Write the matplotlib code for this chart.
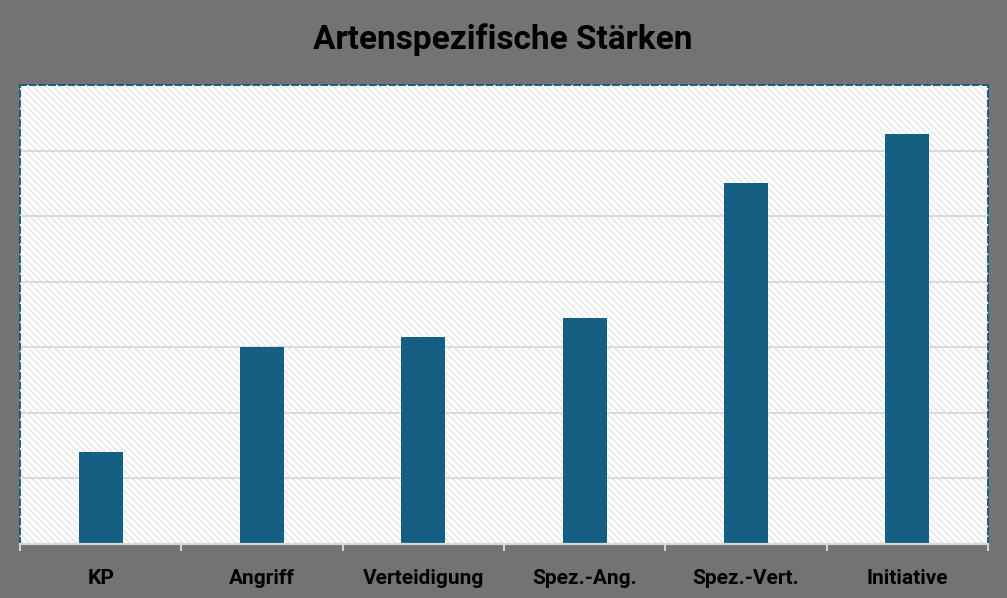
import matplotlib
matplotlib.use("Agg")
import matplotlib.pyplot as plt
from matplotlib.patches import Rectangle

categories = ["KP", "Angriff", "Verteidigung", "Spez.-Ang.", "Spez.-Vert.", "Initiative"]
values = [28, 60, 63, 69, 110, 125]

BG = "#737373"
BAR = "#156082"
GRID = "#d9d9d9"

plt.rcParams["hatch.linewidth"] = 0.9
plt.rcParams["hatch.color"] = "#e2e2e2"
plt.rcParams["font.family"] = ["Roboto", "DejaVu Sans"]

fig = plt.figure(figsize=(10.07, 5.98), dpi=100, facecolor=BG)
W, H = 1007, 598
x0, x1, yt, yb = 20, 988, 85, 544
ax = fig.add_axes([x0 / W, (H - yb) / H, (x1 - x0) / W, (yb - yt) / H])
ax.set_facecolor("white")

hatch = Rectangle((0, 0), 1, 1, transform=ax.transAxes, facecolor="white",
                  edgecolor="#e2e2e2", hatch="\\\\\\\\\\", linewidth=0, zorder=0)
ax.add_patch(hatch)

xs = list(range(len(categories)))
ax.bar(xs, values, width=0.273, color=BAR, zorder=3)

ax.set_xlim(-0.5, len(categories) - 0.5)
ax.set_ylim(0, 140)
ax.set_yticks([20, 40, 60, 80, 100, 120])
ax.yaxis.grid(True, color=GRID, linewidth=1.4, zorder=1)
ax.set_axisbelow(True)
ax.tick_params(axis="y", left=False, labelleft=False)

ax.set_xticks(xs)
ax.set_xticklabels(categories, fontsize=15, fontweight="bold", color="black")
ax.tick_params(axis="x", length=0, pad=18)
ax.set_xticks([i - 0.5 for i in range(len(categories) + 1)], minor=True)
ax.tick_params(axis="x", which="minor", length=5, width=1.4, color=GRID)

for s in ["left", "right", "top"]:
    ax.spines[s].set_color(BAR)
    ax.spines[s].set_linestyle((0, (3, 2)))
    ax.spines[s].set_linewidth(1.4)
ax.spines["bottom"].set_color(GRID)
ax.spines["bottom"].set_linewidth(1.6)
ax.spines["bottom"].set_zorder(4)

fig.text(503 / W, 1 - 40 / H, "Artenspezifische Stärken", ha="center", va="center",
         fontsize=24, fontweight="bold", color="black")

fig.savefig("out.png", dpi=100, facecolor=BG)
